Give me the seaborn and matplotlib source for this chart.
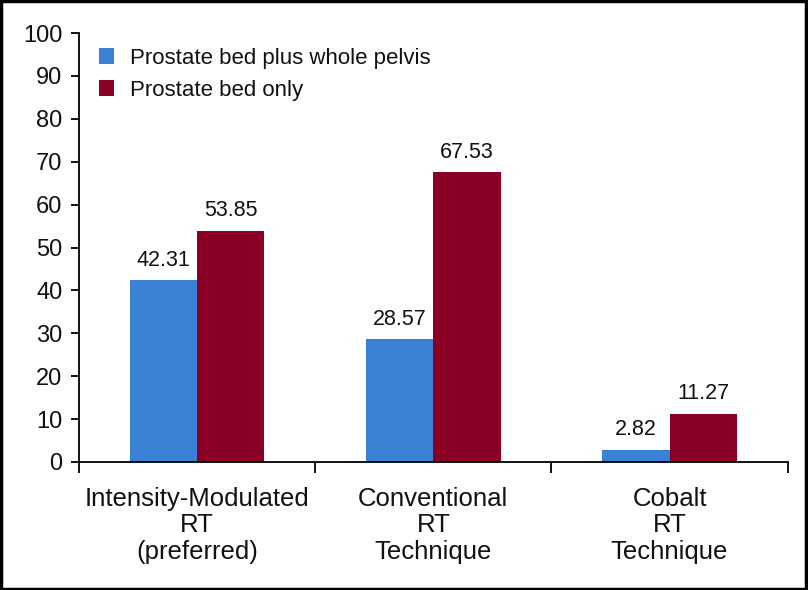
import matplotlib
matplotlib.use("Agg")
import matplotlib.pyplot as plt
import seaborn as sns
import pandas as pd
from matplotlib.patches import Rectangle

categories = ["Intensity-Modulated\nRT\n(preferred)", "Conventional\nRT\nTechnique", "Cobalt\nRT\nTechnique"]
series_names = ["Prostate bed plus whole pelvis", "Prostate bed only"]
pelvis_values = [42.31, 28.57, 2.82]
bed_only_values = [53.85, 67.53, 11.27]
y_ticks = [0, 10, 20, 30, 40, 50, 60, 70, 80, 90, 100]
colors = ["#3B82D6", "#8A0025"]

rows = []
for c, v in zip(categories, pelvis_values):
    rows.append({"cat": c, "series": series_names[0], "value": v})
for c, v in zip(categories, bed_only_values):
    rows.append({"cat": c, "series": series_names[1], "value": v})
df = pd.DataFrame(rows)

sns.set_theme(style="white")
plt.rcParams["font.family"] = ["Liberation Sans", "DejaVu Sans"]

fig = plt.figure(figsize=(8.08, 5.90), dpi=100)
ax = fig.add_axes([0.0978, 0.217, 0.877, 0.727])

sns.barplot(data=df, x="cat", y="value", hue="series", order=categories,
            hue_order=series_names, palette=colors, width=0.57, gap=0,
            errorbar=None, ax=ax, saturation=1, linewidth=0)

for cont in ax.containers:
    ax.bar_label(cont, fmt="%.2f", padding=7, fontsize=15.5, color="#111111")

ax.set_xlim(-0.5, 2.5)
ax.set_ylim(0, 100)
ax.set_yticks(y_ticks)
ax.set_yticklabels([str(t) for t in y_ticks], fontsize=17, color="#111111")
ax.set_xlabel("")
ax.set_ylabel("")

ax.set_xticks([0, 1, 2])
ax.set_xticklabels(categories, fontsize=18.5, color="#111111",
                   family=["Liberation Sans Narrow", "Liberation Sans", "DejaVu Sans"],
                   linespacing=1.13)
ax.tick_params(axis="x", which="major", length=0, pad=18)
ax.set_xticks([-0.5, 0.5, 1.5, 2.5], minor=True)
ax.tick_params(axis="x", which="minor", length=8, width=1.3, color="black", direction="out", bottom=True)
ax.tick_params(axis="y", length=6, width=1.3, color="black", direction="out", left=True, pad=6)

for s in ["top", "right"]:
    ax.spines[s].set_visible(False)
for s in ["left", "bottom"]:
    ax.spines[s].set_color("black")
    ax.spines[s].set_linewidth(1.3)

leg = ax.legend(loc="upper left", bbox_to_anchor=(0.006, 1.002), frameon=False,
                fontsize=16, handlelength=0.7, handleheight=0.7, handletextpad=0.7,
                labelspacing=0.5, borderpad=0.2, title=None)
for t in leg.get_texts():
    t.set_color("#111111")

fig.patches.append(Rectangle((0.001, 0.001), 0.997, 0.997, transform=fig.transFigure,
                             fill=False, edgecolor="black", linewidth=2.5))

fig.savefig("out.png", dpi=100)
